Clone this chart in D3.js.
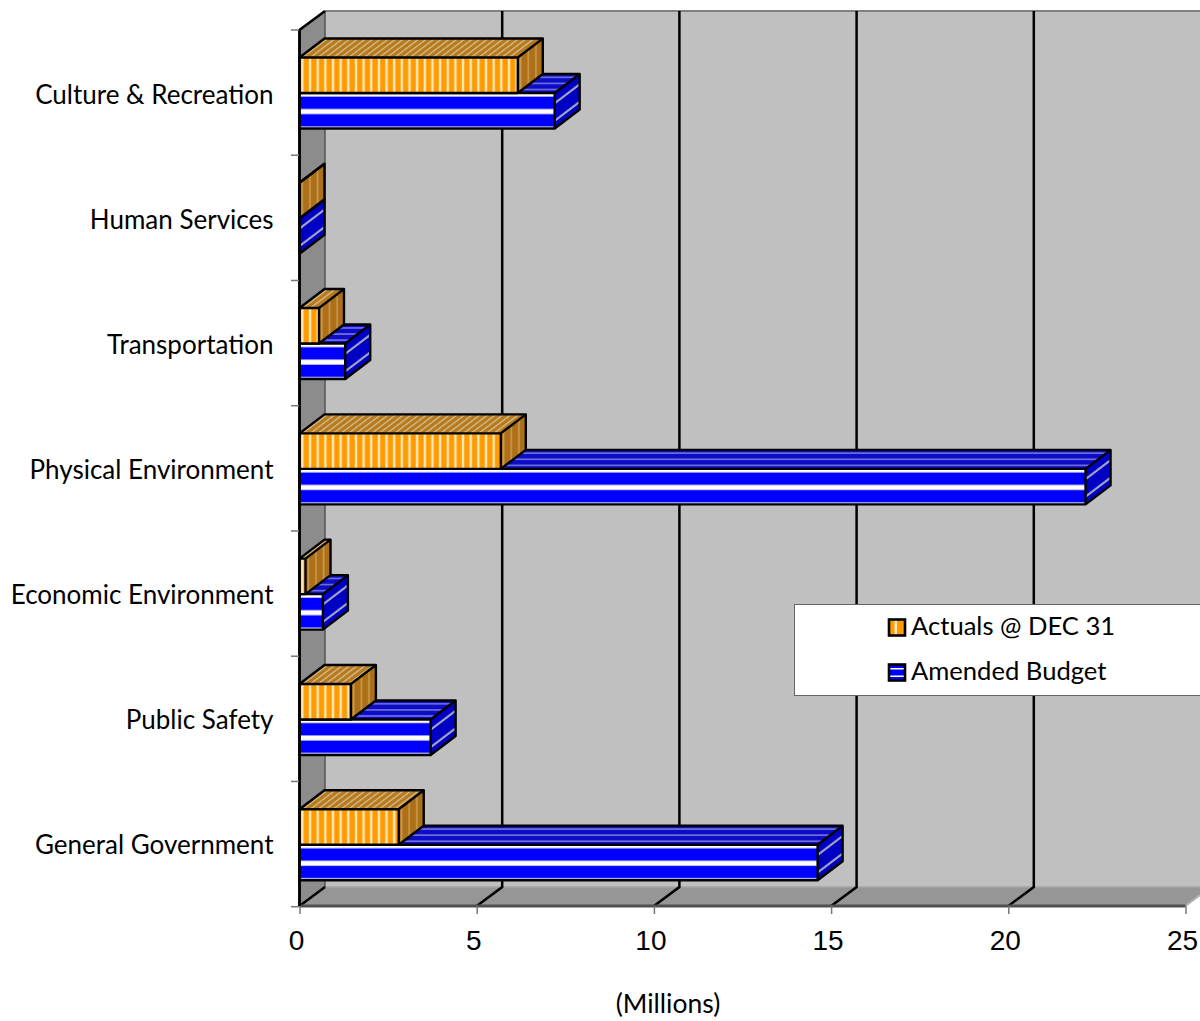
<!DOCTYPE html>
<html><head><meta charset="utf-8">
<script src="https://cdn.jsdelivr.net/npm/d3@7/dist/d3.min.js"></script>
<style>html,body{margin:0;padding:0;background:#fff;overflow:hidden}svg{display:block}</style>
</head><body><svg id="c" width="1200" height="1021"></svg>
<script>
const categories=["Culture & Recreation","Human Services","Transportation","Physical Environment","Economic Environment","Public Safety","General Government"];
const actuals=[6.16,0.0,0.55,5.68,0.17,1.45,2.8];
const budget=[7.2,0.0,1.29,22.18,0.66,3.7,14.62];
const seriesNames=["Actuals @ DEC 31","Amended Budget"];
const xTicks=[0,5,10,15,20,25];
const axisTitle="(Millions)";

const svg=d3.select("#c"), W=1200, H=1021;
const wallDx=25.5, dx=25, dy=-19;
const x=d3.scaleLinear().domain([0,25]).range([299.5,1185.5]);
const y=d3.scaleBand().domain(categories).range([30,907]);
const yLabel=d3.scaleBand().domain(categories).range([32,907]);
const inner=d3.scaleBand().domain(["a","b"]).range([27.5,98.5]);
const floorY=y.range()[1]-1, topY=y.range()[0];
const pts=a=>a.map(p=>p.join(",")).join(" ");
const defs=svg.append("defs");

function pat(id,w,h,bg,stripes,transform){
  const p=defs.append("pattern").attr("id",id).attr("patternUnits","userSpaceOnUse").attr("width",w).attr("height",h);
  if(transform)p.attr("patternTransform",transform);
  p.append("rect").attr("width",w).attr("height",h).attr("fill",bg);
  stripes.forEach(s=>p.append("rect").attr("x",s.x||0).attr("y",s.y||0).attr("width",s.w||w).attr("height",s.h||h).attr("fill",s.c));
}
const k=dy/dx, k2=dx/dy;
// orange faces
pat("oF",7.65,40,"#ff9a00",[{x:1.7,w:2.4,c:"#ffe9b8"}]);
pat("oT",7.65,40,"#b87a1e",[{x:2,w:2.4,c:"#d2b583"}],`matrix(1,0,${k2},1,0,0)`);
pat("oS",7.65,60,"#ad6f17",[{x:2,w:1.6,c:"#c89a50"}],`matrix(1,${k},0,1,0,0)`);
// blue faces
pat("bF",200,17.5,"#0000ff",[{y:0,h:3.6,c:"#ffffff"},{y:16,h:1.5,c:"#ffffff"}]);
pat("bT",200,6.1,"#0d0dc8",[{y:2,h:1.3,c:"#8a8ae0"}]);
pat("bS",40,17.5,"#0000c4",[{y:9,h:2.6,c:"#a8a8c0"}],`matrix(1,${k},0,1,0,0)`);

// walls
const xBack=v=>x(v)+wallDx;
const wallTop=topY+dy, wallBot=floorY+dy;
svg.append("rect").attr("x",xBack(0)).attr("y",wallTop).attr("width",W-xBack(0)).attr("height",wallBot-wallTop).attr("fill","#c0c0c0");
svg.append("line").attr("x1",xBack(0)).attr("x2",W).attr("y1",wallTop).attr("y2",wallTop).attr("stroke","#808080").attr("stroke-width",2);
svg.append("polygon").attr("points",pts([[x(0),floorY],[xBack(0),wallBot],[W,wallBot],[W,floorY+(W-x(25))*k],[x(25),floorY]])).attr("fill","#969696");
svg.append("line").attr("x1",xBack(0)).attr("x2",W).attr("y1",wallBot).attr("y2",wallBot).attr("stroke","#a4a4a4").attr("stroke-width",1.5);
svg.append("line").attr("x1",x(25)).attr("y1",floorY).attr("x2",W).attr("y2",floorY+(W-x(25))*k).attr("stroke","#b4b4b4").attr("stroke-width",2);
svg.append("polygon").attr("points",pts([[x(0),topY],[xBack(0),wallTop],[xBack(0),wallBot],[x(0),floorY]])).attr("fill","#8c8c8c");
svg.append("line").attr("x1",xBack(0)).attr("x2",xBack(0)).attr("y1",wallTop).attr("y2",wallBot).attr("stroke","#555").attr("stroke-width",1.5);

// grid lines
const grid=svg.append("g").attr("fill","none").attr("stroke","#000").attr("stroke-width",2.5);
xTicks.slice(1,-1).forEach(t=>{
  grid.append("polyline").attr("points",pts([[xBack(t),wallTop],[xBack(t),wallBot],[x(t),floorY]]));
});
grid.append("polyline").attr("points",pts([[x(0),floorY],[x(0),topY],[xBack(0),wallTop]]));
grid.append("line").attr("x1",x(0)).attr("y1",floorY).attr("x2",xBack(0)).attr("y2",wallBot);
svg.append("line").attr("x1",x(0)).attr("x2",x(25)).attr("y1",floorY).attr("y2",floorY).attr("stroke","#505050").attr("stroke-width",3);

// bars
function bar(cat,val,key,f,t,s){
  const h=inner.bandwidth(), w=x(val)-x(0);
  const g=svg.append("g").attr("transform",`translate(${x(0)},${y(cat)+inner(key)})`);
  g.append("polygon").attr("points",pts([[0,0],[dx,dy],[w+dx,dy],[w,0]])).attr("fill",`url(#${t})`);
  g.append("g").attr("transform",`translate(${w},0)`).append("polygon").attr("points",pts([[0,0],[dx,dy],[dx,h+dy],[0,h]])).attr("fill",`url(#${s})`);
  if(w>0)g.append("rect").attr("width",w).attr("height",h).attr("fill",`url(#${f})`);
  const o=g.append("g").attr("fill","none").attr("stroke","#000").attr("stroke-width",2.4).attr("stroke-linejoin","round");
  o.append("polyline").attr("points",pts([[0,0],[dx,dy],[w+dx,dy],[w+dx,h+dy],[w,h]]));
  o.append("line").attr("x1",w).attr("y1",0).attr("x2",w+dx).attr("y2",dy);
  if(w>0)o.append("rect").attr("width",w).attr("height",h);
  else o.append("line").attr("x1",0).attr("y1",0).attr("x2",0).attr("y2",h);
}
categories.forEach((c,i)=>{
  bar(c,budget[i],"b","bF","bT","bS");
  bar(c,actuals[i],"a","oF","oT","oS");
});
svg.append("line").attr("x1",x(0)).attr("x2",x(0)).attr("y1",topY).attr("y2",floorY).attr("stroke","#000").attr("stroke-width",2.5);

// axes
const xa=svg.append("g").attr("transform",`translate(0,${floorY})`).call(d3.axisBottom(x).tickValues(xTicks).tickSize(8).tickPadding(0).tickFormat(d3.format("d")));
xa.select(".domain").remove();
xa.selectAll("line").attr("stroke","#777").attr("stroke-width",1.5);
xa.selectAll("text").attr("font-family","'Liberation Sans',Arial,sans-serif").attr("font-size",28).attr("fill","#000").attr("dx",-3.5).attr("dy",0).attr("y",44).attr("text-anchor","middle");
const ya=svg.append("g").attr("transform",`translate(299.5,0)`).call(d3.axisLeft(yLabel).tickSize(0).tickPadding(26));
ya.select(".domain").remove();
ya.selectAll("text").attr("font-family","Lato,Carlito,sans-serif").attr("font-size",26).attr("fill","#000").attr("dy","0.35em");
const bounds=d3.range(categories.length+1).map(i=>y.range()[0]+i*y.step()-0.3*i/7);
svg.append("g").selectAll("line").data(bounds).join("line").attr("x1",291).attr("x2",299).attr("y1",d=>d).attr("y2",d=>d).attr("stroke","#777").attr("stroke-width",1.5);

svg.append("text").attr("x",668).attr("y",1013).attr("text-anchor","middle").attr("font-family","Lato,Carlito,sans-serif").attr("font-size",26.5).text(axisTitle);

// legend
svg.append("rect").attr("x",794.5).attr("y",604.5).attr("width",420).attr("height",91).attr("fill","#fff").attr("stroke","#666").attr("stroke-width",1);
const sw=[{f:"#ff9a00",y:619.5},{f:"#0000ff",y:664.5}];
seriesNames.forEach((n,i)=>{
  const g=svg.append("g").attr("transform",`translate(889,${sw[i].y})`);
  g.append("rect").attr("width",16).attr("height",16).attr("fill",sw[i].f);
  if(i==0){g.append("rect").attr("x",5.5).attr("width",2.5).attr("height",16).attr("fill","#ffe9b8");}
  else{g.append("rect").attr("y",3.5).attr("width",16).attr("height",1.5).attr("fill","#fff");g.append("rect").attr("y",11).attr("width",16).attr("height",1.5).attr("fill","#fff");}
  g.append("rect").attr("width",16).attr("height",16).attr("fill","none").attr("stroke","#000").attr("stroke-width",2.6);
  svg.append("text").attr("x",911).attr("y",sw[i].y+15.5).attr("font-family","Lato,Carlito,sans-serif").attr("font-size",25.6).attr("fill","#000").text(n);
});
</script></body></html>
